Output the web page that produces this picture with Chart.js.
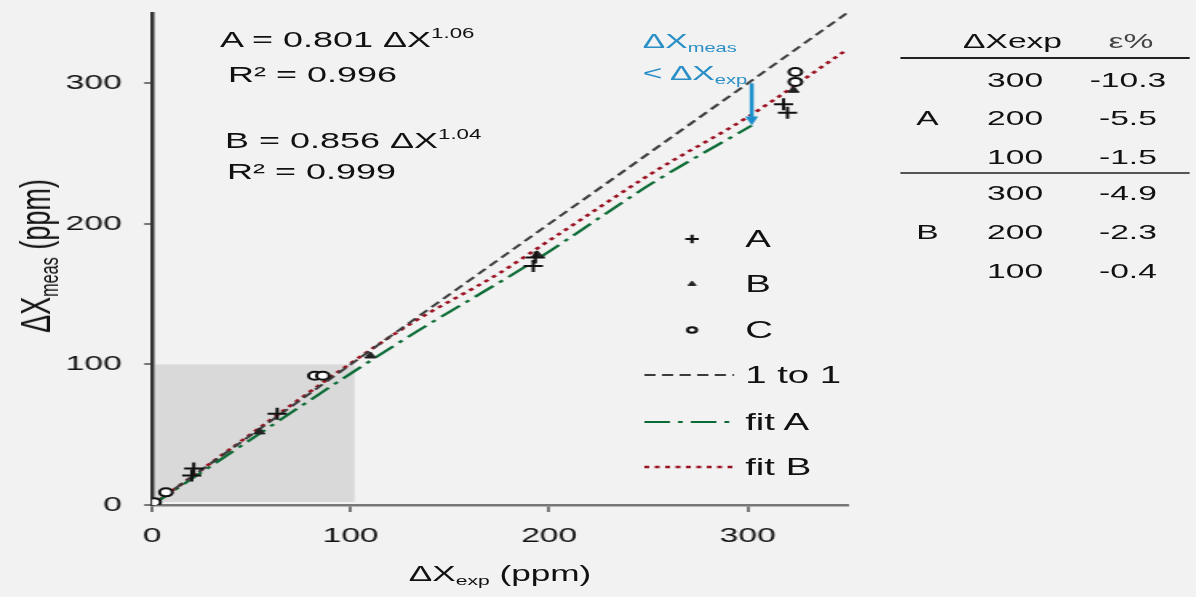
<!DOCTYPE html>
<html lang="en">
<head>
<meta charset="UTF-8">
<meta name="viewport" content="width=device-width, initial-scale=1.0">
<title>ΔXmeas vs ΔXexp</title>
<script src="https://cdn.jsdelivr.net/npm/chart.js"></script>
<style>
  html, body { margin: 0; padding: 0; background: #f2f2f2; overflow: hidden; }
  body { width: 1196px; height: 597px; }
  /* the source picture is stretched sideways, so the whole stage is too */
  #stage { position: absolute; left: 0; top: 0; width: 748px; height: 597px;
           transform: scaleX(1.599); transform-origin: 0 0;
           font-family: "Liberation Sans", Arial, sans-serif; color: #111; }
  #chart { position: absolute; left: 0; top: 0; }
  .t { position: absolute; white-space: nowrap; }
  .sub { font-size: 0.6em; vertical-align: -0.3em; line-height: 0; }
  .sup { font-size: 0.62em; vertical-align: 0.62em; line-height: 0; }
  .rule { position: absolute; height: 2px; background: #222; }
</style>
</head>
<body>
<div id="stage">
  <canvas id="chart" width="748" height="597"></canvas>
</div>

<script>
  // ---- data ----
  const xTicks = [0, 100, 200, 300];
  const yTicks = [0, 100, 200, 300];
  const axisMax = 350;

  const aX = [20, 21, 63, 192, 193, 318, 320];
  const aY = [21, 26, 65, 170, 176, 285, 279];

  const bX = [54, 110, 194, 323];
  const bY = [52, 106, 178, 295];

  const cX = [1, 7, 82, 86, 324, 324];
  const cY = [2, 9, 92, 92, 301, 308];

  const oneX = [0, 350];
  const oneY = [0, 350];

  const fitAX = [0, 126, 193, 252, 302];
  const fitAY = [0, 117, 174, 229, 270];

  const fitBX = [0, 128, 175, 202, 254, 300, 350];
  const fitBY = [0, 127, 165, 190, 238, 276, 324];

  // low-range box and the "meas < exp" arrow
  const shadeX = [0, 102];
  const shadeY = [0, 100];
  const arrowX = 302;
  const arrowY = [300, 270];

  // fit equations
  const eqLines = [
    'A = 0.801 ΔX<span class="sup">1.06</span>',
    'R² = 0.996',
    'B = 0.856 ΔX<span class="sup">1.04</span>',
    'R² = 0.999'
  ];

  // error table
  const tableGroups = ['A', 'B'];
  const tableExp = [300, 200, 100];
  const errA = ['-10.3', '-5.5', '-1.5'];
  const errB = ['-4.9', '-2.3', '-0.4'];

  const zip = (xs, ys) => xs.map((v, i) => ({ x: v, y: ys[i] }));

  // ---- text overlays ----
  const stage = document.getElementById('stage');

  function put(html, x, yc, size, align, extra) {
    const d = document.createElement('div');
    d.className = 't';
    d.innerHTML = html;
    d.style.fontSize = size + 'px';
    d.style.lineHeight = size + 'px';
    d.style.left = x + 'px';
    d.style.top = (yc - 0.49 * size) + 'px';
    if (align === 'center') d.style.transform = 'translateX(-50%)';
    if (extra) Object.assign(d.style, extra);
    stage.appendChild(d);
    return d;
  }

  // equations
  put(eqLines[0], 137.6, 40, 22.5);
  put(eqLines[1], 142.6, 75, 22.5);
  put(eqLines[2], 140.7, 141, 22.5);
  put(eqLines[3], 142, 172, 22.5);

  // blue note
  put('ΔX<span class="sub">meas</span>', 402, 40, 21, null, { color: '#2a8fc6' });
  put('&lt; ΔX<span class="sub">exp</span>', 402, 72, 21, null, { color: '#2a8fc6' });

  // axis titles
  put('ΔX<span class="sub">exp</span> (ppm)', 312.7, 574, 22, 'center');
  const yt = document.createElement('div');
  yt.className = 't';
  yt.innerHTML = 'ΔX<span class="sub">meas</span> (ppm)';
  Object.assign(yt.style, { fontSize: '27px', lineHeight: '27px', left: '22.5px', top: '256px',
    transform: 'translate(-50%, -50%) rotate(-90deg)' });
  stage.appendChild(yt);

  // table
  put('ΔXexp', 602.3, 40, 21);
  put('ε%', 707.3, 40, 21, 'center', { color: '#444' });
  const rowY = [[79.5, 117.5, 156.5], [192.5, 231.5, 270.5]];
  [errA, errB].forEach((errs, g) => {
    put(tableGroups[g], 573, rowY[g][1], 21);
    tableExp.forEach((v, i) => {
      put(String(v), 617.3, rowY[g][i], 21);
      put(errs[i], 705.4, rowY[g][i], 21, 'center');
    });
  });
  [58, 173].forEach((yy, i) => {
    const r = document.createElement('div');
    r.className = 'rule';
    Object.assign(r.style, { left: '563px', width: '181px', top: (yy - 1) + 'px',
      background: i ? '#555' : '#222' });
    stage.appendChild(r);
  });

  // legend labels
  const legendY = [239, 284, 330, 375, 422, 467];
  const legendNames = ['A', 'B', 'C', '1 to 1', 'fit A', 'fit B'];
  legendNames.forEach((n, i) => put(n, 466, legendY[i], 24));

  // ---- chart ----
  const extras = {
    id: 'extras',
    beforeDatasetsDraw(chart) {
      const { ctx, scales: { x, y } } = chart;
      const l = x.getPixelForValue(shadeX[0]) + 2, r = x.getPixelForValue(shadeX[1]);
      const t = y.getPixelForValue(shadeY[1]), b = y.getPixelForValue(shadeY[0]) - 3;
      ctx.save();
      ctx.fillStyle = '#d9d9d9';
      ctx.fillRect(l, t, r - l, b - t);
      ctx.restore();
    },
    afterDatasetsDraw(chart) {
      const { ctx, scales: { x, y } } = chart;
      const ax = x.getPixelForValue(arrowX);
      const y1 = y.getPixelForValue(arrowY[0]), y2 = y.getPixelForValue(arrowY[1]);
      ctx.save();
      ctx.strokeStyle = '#1b8fcb';
      ctx.fillStyle = '#1b8fcb';
      ctx.lineWidth = 2.5;
      ctx.beginPath();
      ctx.moveTo(ax, y1);
      ctx.lineTo(ax, y2 - 7);
      ctx.stroke();
      ctx.beginPath();
      ctx.moveTo(ax - 4, y2 - 9);
      ctx.lineTo(ax + 4, y2 - 9);
      ctx.lineTo(ax, y2);
      ctx.closePath();
      ctx.fill();
      ctx.restore();
    },
    afterDraw(chart) {
      // legend symbols, styled from the datasets
      const ctx = chart.ctx;
      chart.data.datasets.forEach((ds, i) => {
        const yy = legendY[i];
        ctx.save();
        if (ds.showLine) {
          ctx.strokeStyle = ds.borderColor;
          ctx.lineWidth = ds.borderWidth;
          ctx.setLineDash(ds.borderDash || []);
          ctx.beginPath();
          ctx.moveTo(403, yy);
          ctx.lineTo(459, yy);
          ctx.stroke();
        } else {
          ctx.strokeStyle = ds.borderColor;
          ctx.fillStyle = ds.backgroundColor;
          ctx.lineWidth = ds.pointBorderWidth || 1;
          Chart.helpers.drawPoint(ctx, {
            pointStyle: ds.pointStyle, radius: ds.pointRadius * 0.7,
            borderWidth: ds.pointBorderWidth || 1, rotation: 0
          }, 432.8, yy);
        }
        ctx.restore();
      });
    }
  };

  Chart.defaults.font.family = '"Liberation Sans", Arial, sans-serif';
  Chart.defaults.color = '#111';

  new Chart(document.getElementById('chart'), {
    type: 'scatter',
    data: {
      datasets: [
        { label: 'A', data: zip(aX, aY), pointStyle: 'cross', pointRadius: 6, pointBorderWidth: 2,
          borderColor: '#111', backgroundColor: '#111' },
        { label: 'B', data: zip(bX, bY), pointStyle: 'triangle', pointRadius: 4, pointBorderWidth: 1,
          borderColor: '#222', backgroundColor: '#222' },
        { label: 'C', data: zip(cX, cY), pointStyle: 'circle', pointRadius: 4, pointBorderWidth: 2,
          borderColor: '#111', backgroundColor: '#ffffff' },
        { label: '1 to 1', data: zip(oneX, oneY), showLine: true, borderColor: '#3c3c3c',
          borderWidth: 2, borderDash: [7, 4], pointRadius: 0 },
        { label: 'fit A', data: zip(fitAX, fitAY), showLine: true, borderColor: '#0b6b35',
          borderWidth: 2.2, borderDash: [16, 5, 3, 5], pointRadius: 0, cubicInterpolationMode: 'monotone' },
        { label: 'fit B', data: zip(fitBX, fitBY), showLine: true, borderColor: '#9a1020',
          borderWidth: 2.5, borderDash: [3, 3.5], pointRadius: 0, cubicInterpolationMode: 'monotone' }
      ]
    },
    options: {
      responsive: false,
      animation: false,
      events: [],
      layout: { padding: { left: 0, right: 218.3, top: 13, bottom: 0 } },
      plugins: { legend: { display: false }, tooltip: { enabled: false } },
      scales: {
        x: {
          type: 'linear', min: 0, max: axisMax,
          afterBuildTicks: s => { s.ticks = xTicks.map(v => ({ value: v })); },
          afterFit: s => { s.height = 92; s.paddingRight = 0; },
          grid: { drawOnChartArea: false, drawTicks: true, tickLength: 7, color: '#777', lineWidth: 2 },
          border: { display: true, color: '#777', width: 2.5 },
          ticks: { font: { size: 21 }, color: '#111', padding: 12, maxRotation: 0 }
        },
        y: {
          type: 'linear', min: 0, max: axisMax,
          afterBuildTicks: s => { s.ticks = yTicks.map(v => ({ value: v })); },
          afterFit: s => { s.width = 95.1; s.paddingTop = 0; },
          grid: { drawOnChartArea: false, drawTicks: true, tickLength: 5, color: '#777', lineWidth: 2 },
          border: { display: true, color: '#333', width: 2.5 },
          ticks: { font: { size: 21 }, color: '#111', padding: 14 }
        }
      }
    },
    plugins: [extras]
  });
</script>
</body>
</html>
